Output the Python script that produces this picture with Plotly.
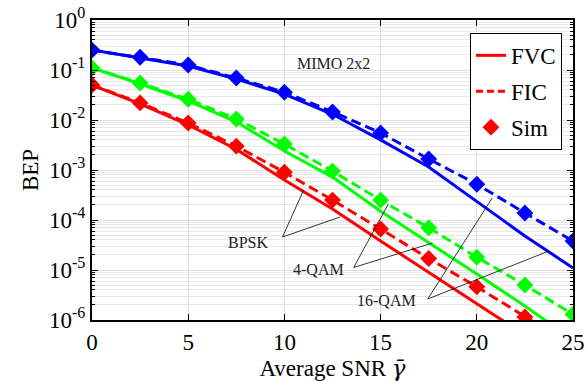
import plotly.graph_objects as go

snr = [0, 2.5, 5, 7.5, 10, 12.5, 15, 17.5, 20, 22.5, 25]

bpsk_fvc = [0.05, 0.021, 8.0e-3, 2.6e-3, 6.3e-4, 1.66e-4, 3.8e-5, 9.0e-6, 2.2e-6, 5.0e-7, 1.1e-7]
bpsk_fic = [0.05, 0.022, 8.7e-3, 3.0e-3, 9.0e-4, 2.5e-4, 6.6e-5, 1.7e-5, 4.6e-6, 1.15e-6, 3.0e-7]
bpsk_sim = [0.05, 0.022, 8.7e-3, 3.0e-3, 9.0e-4, 2.5e-4, 6.6e-5, 1.7e-5, 4.6e-6, 1.15e-6, 3.0e-7]

qam4_fvc = [0.11, 0.053, 0.024, 9.2e-3, 2.4e-3, 7.2e-4, 1.5e-4, 3.6e-5, 8.3e-6, 1.9e-6, 4.0e-7]
qam4_fic = [0.11, 0.055, 0.026, 0.0105, 3.3e-3, 9.5e-4, 2.5e-4, 7.0e-5, 1.8e-5, 5.0e-6, 1.3e-6]
qam4_sim = [0.11, 0.055, 0.026, 0.0105, 3.3e-3, 9.5e-4, 2.5e-4, 7.0e-5, 1.8e-5, 5.0e-6, 1.3e-6]

qam16_fvc = [0.25, 0.175, 0.12, 0.066, 0.033, 0.013, 4.0e-3, 1.15e-3, 2.3e-4, 4.8e-5, 1.1e-5]
qam16_fic = [0.25, 0.18, 0.126, 0.069, 0.036, 0.0145, 5.5e-3, 1.66e-3, 5.2e-4, 1.38e-4, 3.8e-5]
qam16_sim = [0.25, 0.18, 0.126, 0.069, 0.036, 0.0145, 5.5e-3, 1.66e-3, 5.2e-4, 1.38e-4, 3.8e-5]

y_tickvals = [1, 1e-1, 1e-2, 1e-3, 1e-4, 1e-5, 1e-6]
y_ticktext = ["10<sup>0</sup>", "10<sup>-1</sup>", "10<sup>-2</sup>", "10<sup>-3</sup>",
              "10<sup>-4</sup>", "10<sup>-5</sup>", "10<sup>-6</sup>"]
x_tickvals = [0, 5, 10, 15, 20, 25]

FONT = "Liberation Serif"
DASH = "10px,5px"
series = [
    ("#ff0000", bpsk_fvc, bpsk_fic, bpsk_sim),
    ("#00ff00", qam4_fvc, qam4_fic, qam4_sim),
    ("#0000ff", qam16_fvc, qam16_fic, qam16_sim),
]

fig = go.Figure()
for color, fvc, fic, sim in series:
    fig.add_trace(go.Scatter(x=snr, y=fvc, mode="lines", line=dict(color=color, width=3),
                             showlegend=False, hoverinfo="skip"))
    fig.add_trace(go.Scatter(x=snr, y=fic, mode="lines", line=dict(color=color, width=3, dash=DASH),
                             showlegend=False, hoverinfo="skip"))
    fig.add_trace(go.Scatter(x=snr, y=sim, mode="markers",
                             marker=dict(color=color, symbol="diamond", size=13),
                             showlegend=False))

# legend entries
fig.add_trace(go.Scatter(x=[None], y=[None], mode="lines", line=dict(color="#ff0000", width=3),
                         name="FVC", legendgroup="a"))
fig.add_trace(go.Scatter(x=[None], y=[None], mode="lines", line=dict(color="#ff0000", width=3, dash="7px,4px"),
                         name="FIC", legendgroup="b"))
fig.add_trace(go.Scatter(x=[None], y=[None], mode="markers",
                         marker=dict(color="#ff0000", symbol="diamond", size=13),
                         name="Sim", legendgroup="c"))

# annotation leader lines (label anchor -> curve), in data coordinates
leaders = [
    ((9.9, 10**-4.34), (11.0, 10**-3.4)),
    ((9.9, 10**-4.34), (12.9, 10**-3.94)),
    ((13.6, 10**-4.95), (15.4, 10**-3.68)),
    ((13.6, 10**-4.95), (17.7, 10**-4.46)),
    ((17.45, 10**-5.58), (20.8, 10**-3.56)),
    ((17.45, 10**-5.58), (23.75, 10**-4.62)),
]
for (x0, y0), (x1, y1) in leaders:
    fig.add_trace(go.Scatter(x=[x0, x1], y=[y0, y1], mode="lines",
                             line=dict(color="black", width=0.8),
                             showlegend=False, hoverinfo="skip"))

labels = [("MIMO 2x2", 12.55, -0.86), ("BPSK", 8.1, -4.44),
          ("4-QAM", 11.75, -4.98), ("16-QAM", 15.3, -5.6)]
for txt, lx, ly in labels:
    fig.add_annotation(x=lx, y=ly, text=txt, showarrow=False,
                       font=dict(family=FONT, size=16, color="#222222"))

grid_major = "#dddddd"
fig.update_xaxes(range=[0, 25], tickvals=x_tickvals, ticks="inside", ticklen=6, tickwidth=1,
                 tickcolor="black", mirror="ticks", showline=True, linecolor="black", linewidth=2,
                 showgrid=True, gridcolor=grid_major, gridwidth=1, zeroline=False, automargin=False,
                 tickfont=dict(family=FONT, size=23, color="black"),
                 title=dict(text="Average SNR <span style='font-family:DejaVu Serif'><i>γ̄</i></span>",
                            font=dict(family=FONT, size=23, color="black"), standoff=2))
fig.update_yaxes(type="log", range=[-6, 0], tickvals=y_tickvals, ticktext=y_ticktext,
                 ticks="inside", ticklen=6, tickwidth=1, tickcolor="black", mirror="ticks",
                 showline=True, linecolor="black", linewidth=2, automargin=False,
                 showgrid=True, gridcolor=grid_major, gridwidth=1, zeroline=False,
                 minor=dict(ticks="inside", ticklen=3, tickcolor="black", showgrid=True,
                            gridcolor="#e8e8e8", dtick="D1"),
                 tickfont=dict(family=FONT, size=23, color="black"),
                 title=dict(text="BEP", font=dict(family=FONT, size=23, color="black"), standoff=4))

fig.update_layout(
    width=585, height=381,
    margin=dict(l=92, r=12, t=20, b=61),
    plot_bgcolor="white", paper_bgcolor="white",
    legend=dict(x=0.977, y=0.957, xanchor="right", yanchor="top",
                bgcolor="white", bordercolor="black", borderwidth=1,
                font=dict(family=FONT, size=23, color="black"),
                tracegroupgap=3, traceorder="grouped"),
)

fig.write_html("out.html", config={"displayModeBar": False},
               post_script="document.body.style.margin='0';")
